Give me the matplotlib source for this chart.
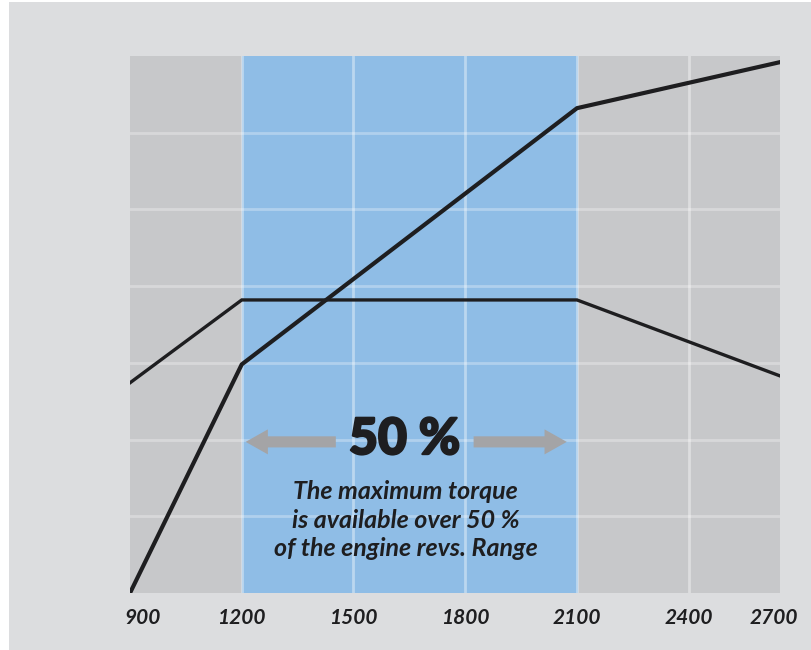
import numpy as np
import matplotlib.pyplot as plt
import matplotlib.transforms as mtransforms
import matplotlib.patheffects as pe
from matplotlib.patches import Rectangle

# engine speed (rpm) and the two curves, in grid units (7 rows of grid)
rpm = [900, 1200, 2100, 2645]
power = [0.0, 2.98, 6.32, 6.92]
torque = [2.74, 3.82, 3.82, 2.83]

tick_values = [900, 1200, 1500, 1800, 2100, 2400, 2700]
tick_labels = ['900', '1200', '1500', '1800', '2100', '2400', '2700']

band = (1200, 2100)
x_max = 2645
y_max = 7

bg = '#dcdddf'
plot_gray = '#c7c8ca'
blue = '#8fbde6'
ink = '#1e1e20'
arrow_gray = '#a4a4a6'

plt.rcParams['font.family'] = ['Lato', 'DejaVu Sans']

fig = plt.figure(figsize=(8.11, 6.5), dpi=100, facecolor='white')
fig.patches.append(Rectangle((9 / 811, 0), 1, 1 - 2 / 650, transform=fig.transFigure,
                             facecolor=bg, edgecolor='none', zorder=-10))
ax = fig.add_axes([130 / 811, 1 - 593 / 650, 650 / 811, 537 / 650])
ax.set_facecolor(plot_gray)
ax.set_xlim(900, x_max)
ax.set_ylim(0, y_max)

ax.axvspan(band[0], band[1], color=blue, zorder=0)

# grid
for t in tick_values:
    if 900 < t < x_max:
        ax.axvline(t, color='white', alpha=0.4, lw=2, zorder=1)
for y in range(1, y_max):
    ax.axhline(y, color='white', alpha=0.3, lw=2, zorder=1)

ax.plot(rpm, torque, color=ink, lw=2.4, solid_joinstyle='miter', zorder=3)
ax.plot(rpm, power, color=ink, lw=3.0, solid_joinstyle='miter', zorder=3)

# arrows and text
arrow_y = 1.97
style = 'simple,head_length=0.8,head_width=0.9,tail_width=0.4'
ax.annotate('', xy=(1203, arrow_y), xytext=(1460, arrow_y),
            arrowprops=dict(arrowstyle=style, color=arrow_gray, mutation_scale=20, lw=0))
ax.annotate('', xy=(2080, arrow_y), xytext=(1815, arrow_y),
            arrowprops=dict(arrowstyle=style, color=arrow_gray, mutation_scale=20, lw=0))
ax.text(1637, arrow_y + 0.03, '50 %', ha='center', va='center', fontsize=36,
        fontweight='black', color=ink, zorder=4,
        path_effects=[pe.withStroke(linewidth=1.6, foreground=ink)])
ax.text(1640, 0.95, 'The maximum torque\nis available over 50 %\nof the engine revs. Range',
        ha='center', va='center', fontsize=18, fontweight='bold', fontstyle='italic',
        color=ink, linespacing=1.3, zorder=4)

ticks = [min(t, x_max) for t in tick_values]
ax.set_xticks(ticks)
ax.set_xticklabels(tick_labels, fontsize=15, fontweight='bold', fontstyle='italic', color=ink)
ax.tick_params(axis='x', length=0, pad=11)
labels = ax.get_xticklabels()
labels[0].set_transform(labels[0].get_transform() + mtransforms.ScaledTranslation(13 / 100, 0, fig.dpi_scale_trans))
labels[-1].set_transform(labels[-1].get_transform() + mtransforms.ScaledTranslation(-6 / 100, 0, fig.dpi_scale_trans))
ax.set_yticks([])
for s in ax.spines.values():
    s.set_visible(False)

plt.savefig('out.png', dpi=100, facecolor=fig.get_facecolor())
